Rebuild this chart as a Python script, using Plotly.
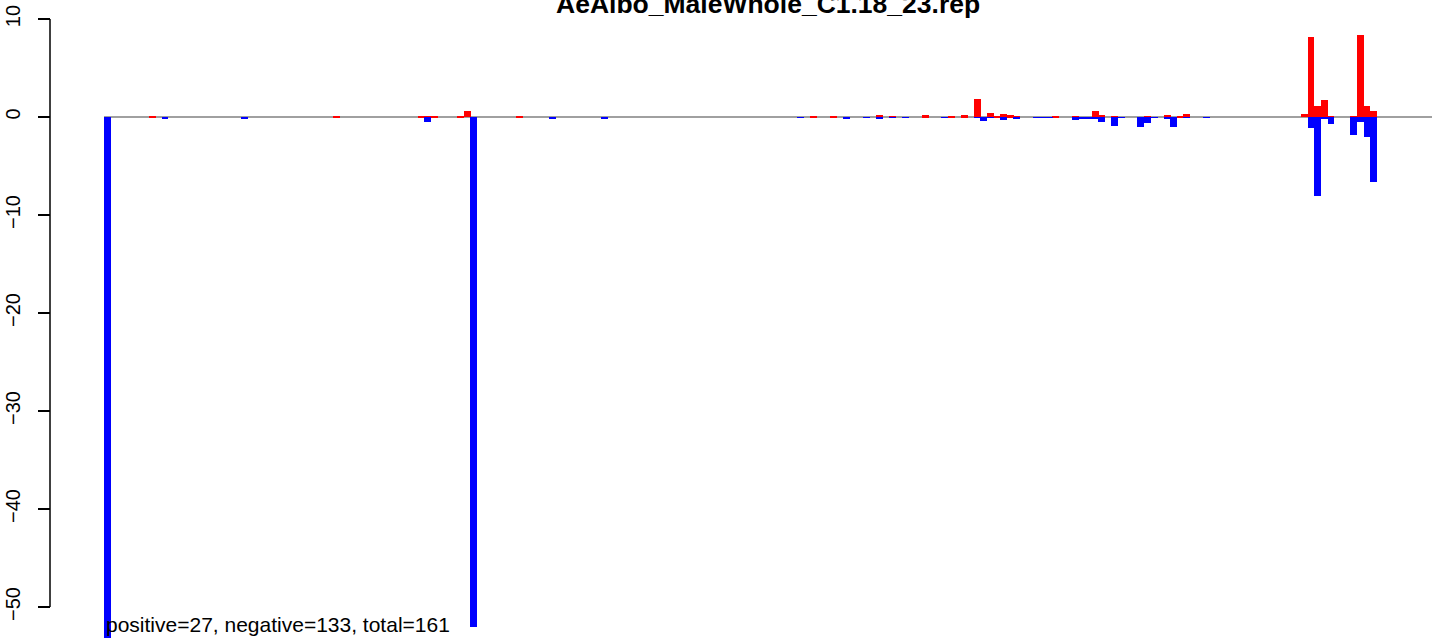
import plotly.graph_objects as go

title_text = "AeAlbo_MaleWhole_C1.18_23.rep"
summary_text = "positive=27, negative=133, total=161"

# positions (arbitrary genomic units) and values
pos_x = [7.3, 34.85, 47.6, 48.6, 49.6, 53.45, 54.55, 62.3, 106.4, 109.4,
         116.3, 118.25, 123.2, 127.1, 129.05, 131.0, 132.95, 134.0, 134.95, 135.95,
         136.85, 142.7, 145.7, 148.7, 149.6, 151.55, 156.5, 159.5, 161.45, 162.35,
         180.05, 181.05, 182.05, 183.05, 184.05, 187.45, 188.45, 189.45, 190.45]
pos_y = [0.15, 0.15, 0.15, 0.15, 0.15, 0.15, 0.6, 0.15, 0.15, 0.15,
         0.2, 0.15, 0.2, 0.15, 0.2, 1.84, 0.4, 0.15, 0.3, 0.2,
         0.15, 0.15, 0.15, 0.6, 0.2, 0.15, 0.15, 0.2, 0.15, 0.3,
         0.3, 8.16, 1.12, 1.73, 0.15, 0.15, 8.37, 1.12, 0.65]

neg_x = [0.5, 9.15, 21.05, 48.5, 55.45, 67.25, 75.05, 104.45, 111.35, 114.35,
         116.3, 118.25, 120.2, 126.05, 131.0, 131.95, 132.95, 134.95, 136.85, 139.85,
         140.85, 141.8, 145.7, 146.75, 147.8, 148.7, 149.6, 151.55, 152.6, 155.45,
         156.5, 157.55, 159.5, 160.4, 162.35, 165.35, 181.05, 182.05, 183.05, 184.05,
         187.45, 188.45, 189.45, 190.45]
neg_y = [-53.5, -0.15, -0.15, -0.5, -52.0, -0.25, -0.12, -0.1, -0.2, -0.1,
         -0.25, -0.1, -0.1, -0.1, -0.1, -0.4, -0.1, -0.3, -0.2, -0.1,
         -0.1, -0.1, -0.3, -0.2, -0.2, -0.2, -0.5, -0.9, -0.1, -1.0,
         -0.6, -0.1, -0.2, -1.0, -0.1, -0.1, -1.09, -8.1, -0.24, -0.68,
         -1.8, -0.48, -2.0, -6.6]

y_ticks = [-50, -40, -30, -20, -10, 0, 10]

FONT = "Liberation Sans, Arial, Helvetica, sans-serif"

fig = go.Figure()
fig.add_trace(go.Bar(x=pos_x, y=pos_y, width=1.0, marker=dict(color="#ff0000", line=dict(width=0)),
                     showlegend=False, hoverinfo="x+y"))
fig.add_trace(go.Bar(x=neg_x, y=neg_y, width=1.0, marker=dict(color="#0000ff", line=dict(width=0)),
                     showlegend=False, hoverinfo="x+y"))

W, H = 1444, 638
ml, mr, mt, mb = 50, 12, 19, 0
inner_w = W - ml - mr
dom0 = (104 - ml) / inner_w

fig.update_layout(
    width=W, height=H,
    margin=dict(l=ml, r=mr, t=mt, b=mb, pad=0),
    paper_bgcolor="white", plot_bgcolor="white",
    barmode="overlay", bargap=0,
    font=dict(family=FONT, color="black"),
    xaxis=dict(domain=[dom0, 1], range=[0, 199.2], visible=False, showgrid=False, zeroline=False),
    yaxis=dict(range=[-53.16, 10], anchor="free", position=0, showgrid=False, zeroline=False,
               showline=False, tickmode="array", tickvals=y_ticks,
               ticktext=[("\u2212" + str(-v)) if v < 0 else str(v) for v in y_ticks],
               ticks="outside", ticklen=12, tickwidth=1.5, tickcolor="black",
               tickangle=-90, tickfont=dict(size=20, family=FONT, color="black"),
               ticklabelstandoff=10),
    shapes=[
        dict(type="line", xref="paper", yref="y", x0=0, x1=0, y0=-50, y1=10,
             line=dict(color="black", width=1.5), layer="above"),
        dict(type="line", xref="x domain", yref="y", x0=0, x1=1, y0=0, y1=0,
             line=dict(color="#a0a0a0", width=2), layer="below"),
    ],
    annotations=[
        dict(text="<b>" + title_text + "</b>", xref="x domain", yref="paper", x=0.5, y=0.9965,
             xanchor="center", yanchor="bottom", showarrow=False,
             font=dict(size=26.5, family=FONT, color="black")),
        dict(text=summary_text, xref="x domain", yref="paper", x=0, y=0,
             xanchor="left", yanchor="bottom", showarrow=False,
             font=dict(size=21, family=FONT, color="black")),
    ],
)

fig.write_html("out.html", config={"displayModeBar": False},
               post_script="document.body.style.margin='0';document.body.style.overflow='hidden';")
